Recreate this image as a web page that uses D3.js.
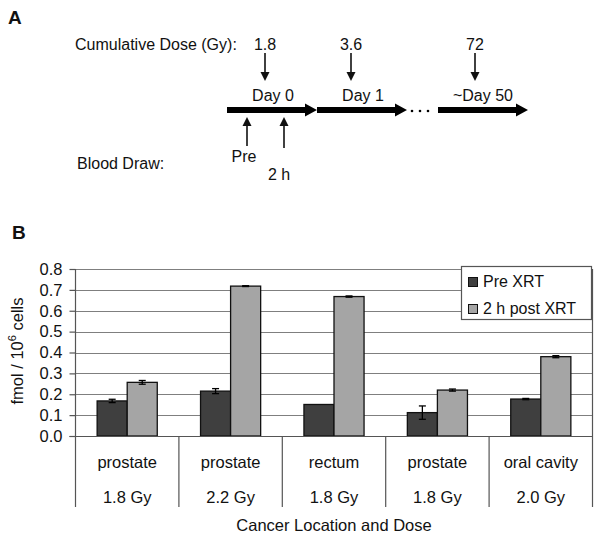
<!DOCTYPE html>
<html><head><meta charset="utf-8">
<script src="https://cdn.jsdelivr.net/npm/d3@7"></script>
<style>body{margin:0;background:#fff}svg{display:block}text{font-family:"Liberation Sans",Arial,sans-serif;fill:#111}</style>
</head><body><svg id="c" width="601" height="540"></svg>
<script>
// ---- Data ----
const locations = ["prostate","prostate","rectum","prostate","oral cavity"];
const doses = ["1.8 Gy","2.2 Gy","1.8 Gy","1.8 Gy","2.0 Gy"];
const seriesNames = ["Pre XRT","2 h post XRT"];
const preValues = [0.168,0.215,0.151,0.112,0.177];
const preErrors = [0.008,0.012,0,0.032,0.003];
const postValues = [0.257,0.718,0.668,0.220,0.380];
const postErrors = [0.009,0.002,0.003,0.005,0.005];
const yTicks = [0,0.1,0.2,0.3,0.4,0.5,0.6,0.7,0.8];
// panel A
const cumDoses = ["1.8","3.6","72"];
const dayLabels = ["Day 0","Day 1","~Day 50"];
const drawLabels = ["Pre","2 h"];

const svg = d3.select("#c");
const colors = ["#3f3f3f","#a5a5a5"];

// ---------------- Panel A ----------------
svg.append("text").attr("x",8).attr("y",24).attr("font-size",19).attr("font-weight","bold").text("A");
svg.append("text").attr("x",75).attr("y",50).attr("font-size",16).text("Cumulative Dose (Gy):");
svg.append("text").attr("x",77).attr("y",169).attr("font-size",16).text("Blood Draw:");

const gA = svg.append("g");
const doseX = [265,351,475];
const dayX = [273,363,483];
function thinArrow(x, y1, y2){ // from y1 to tip at y2
  const dir = y2>y1?1:-1;
  gA.append("line").attr("x1",x).attr("x2",x).attr("y1",y1).attr("y2",y2-dir*8).attr("stroke","#111").attr("stroke-width",1.6);
  gA.append("path").attr("d",`M${x-4.5},${y2-dir*9}L${x+4.5},${y2-dir*9}L${x},${y2}Z`).attr("fill","#111");
}
cumDoses.forEach((d,i)=>{
  gA.append("text").attr("x",doseX[i]).attr("y",50).attr("text-anchor","middle").attr("font-size",16).text(d);
  thinArrow(doseX[i],53,81);
  gA.append("text").attr("x",dayX[i]).attr("y",101).attr("text-anchor","middle").attr("font-size",16).text(dayLabels[i]);
});
function thickArrow(xa,xb,yy){
  gA.append("path").attr("d",`M${xa},${yy-3}L${xb-12},${yy-3}L${xb-12},${yy-6.5}L${xb},${yy}L${xb-12},${yy+6.5}L${xb-12},${yy+3}L${xa},${yy+3}Z`).attr("fill","#000");
}
thickArrow(227,317,110);
thickArrow(317,407,110);
thickArrow(438,528,110);
[412,420,428].forEach(x=>gA.append("circle").attr("cx",x).attr("cy",111).attr("r",1.3).attr("fill","#000"));
const drawX = [247,284];
const drawBottom = [146,148];
const drawTextX = [244,279];
const drawTextY = [162,180];
drawLabels.forEach((d,i)=>{
  thinArrow(drawX[i],drawBottom[i],117);
  gA.append("text").attr("x",drawTextX[i]).attr("y",drawTextY[i]).attr("text-anchor","middle").attr("font-size",16).text(d);
});

// ---------------- Panel B ----------------
svg.append("text").attr("x",12).attr("y",239).attr("font-size",19).attr("font-weight","bold").text("B");

const pL=75.5, pR=592.5, pT=269, pB=436, catBottom=507;
const y = d3.scaleLinear().domain([0,0.8]).range([pB,pT]);
const x0 = d3.scaleBand().domain(d3.range(locations.length)).range([pL,pR]).padding(0);
const x1 = d3.scaleBand().domain([0,1]).range([0,x0.bandwidth()]).paddingInner(0).paddingOuter(0.72);

// gridlines
svg.append("g").selectAll("line").data(yTicks.slice(1)).join("line")
  .attr("x1",pL).attr("x2",pR).attr("y1",d=>Math.round(y(d))+0.5).attr("y2",d=>Math.round(y(d))+0.5)
  .attr("stroke","#7f7f7f").attr("stroke-width",1.2);

// bars
const data = locations.map((l,i)=>({i, vals:[preValues[i],postValues[i]], errs:[preErrors[i],postErrors[i]]}));
const gBars = svg.append("g");
data.forEach(d=>{
  [0,1].forEach(s=>{
    const bx = x0(d.i)+x1(s);
    gBars.append("rect").attr("x",bx).attr("y",y(d.vals[s])).attr("width",x1.bandwidth()).attr("height",y(0)-y(d.vals[s]))
      .attr("fill",colors[s]).attr("stroke","#111").attr("stroke-width",1.3);
    const e = d.errs[s];
    if(e>0){
      const cx = bx + x1.bandwidth()/2;
      gBars.append("line").attr("x1",cx).attr("x2",cx).attr("y1",y(d.vals[s]+e)).attr("y2",y(d.vals[s]-e)).attr("stroke","#000").attr("stroke-width",1.3);
      [d.vals[s]+e,d.vals[s]-e].forEach(v=>gBars.append("line").attr("x1",cx-3.5).attr("x2",cx+3.5).attr("y1",y(v)).attr("y2",y(v)).attr("stroke","#000").attr("stroke-width",1.3));
    }
  });
});

// y axis
const yAxis = d3.axisLeft(y).tickValues(yTicks).tickFormat(d3.format(".1f")).tickSize(6).tickPadding(7);
const gy = svg.append("g").attr("transform",`translate(${pL},0)`).call(yAxis);
gy.select(".domain").remove();
gy.selectAll(".tick line").attr("stroke","#555").attr("stroke-width",1.2);
gy.selectAll(".tick text").attr("font-size",16.5).attr("font-family","Liberation Sans, Arial, sans-serif").attr("fill","#111");

// axis frame lines
svg.append("line").attr("x1",pL).attr("x2",pL).attr("y1",pT).attr("y2",catBottom).attr("stroke","#555").attr("stroke-width",1.2);
svg.append("line").attr("x1",pR).attr("x2",pR).attr("y1",pT).attr("y2",catBottom).attr("stroke","#555").attr("stroke-width",1.2);
svg.append("line").attr("x1",pL-6).attr("x2",pR).attr("y1",pB+0.5).attr("y2",pB+0.5).attr("stroke","#555").attr("stroke-width",1.2);
// category dividers
svg.append("g").selectAll("line").data(d3.range(1,locations.length)).join("line")
  .attr("x1",d=>x0(d)).attr("x2",d=>x0(d)).attr("y1",pB).attr("y2",catBottom).attr("stroke","#555").attr("stroke-width",1.2);
// category labels
svg.append("g").selectAll("text").data(locations).join("text")
  .attr("x",(d,i)=>x0(i)+x0.bandwidth()/2).attr("y",468).attr("text-anchor","middle").attr("font-size",16.5).text(d=>d);
svg.append("g").selectAll("text").data(doses).join("text")
  .attr("x",(d,i)=>x0(i)+x0.bandwidth()/2).attr("y",503).attr("text-anchor","middle").attr("font-size",16.5).text(d=>d);
svg.append("text").attr("x",(pL+pR)/2).attr("y",531).attr("text-anchor","middle").attr("font-size",16.5).text("Cancer Location and Dose");

// y label
const yl = svg.append("text").attr("transform","translate(23,351) rotate(-90)").attr("text-anchor","middle").attr("font-size",16.5);
yl.append("tspan").text("fmol / 10");
yl.append("tspan").attr("font-size",11).attr("dy",-7).text("6");
yl.append("tspan").attr("dy",7).text(" cells");

// legend
const lg = svg.append("g");
lg.append("rect").attr("x",461.5).attr("y",266.5).attr("width",130).attr("height",53).attr("fill","#fff").attr("stroke","#555").attr("stroke-width",1.2);
seriesNames.forEach((s,i)=>{
  lg.append("rect").attr("x",468.5).attr("y",277.5+i*27).attr("width",9).attr("height",9).attr("fill",colors[i]).attr("stroke","#111").attr("stroke-width",1);
  lg.append("text").attr("x",483).attr("y",287+i*27).attr("font-size",16).text(s);
});
</script></body></html>
